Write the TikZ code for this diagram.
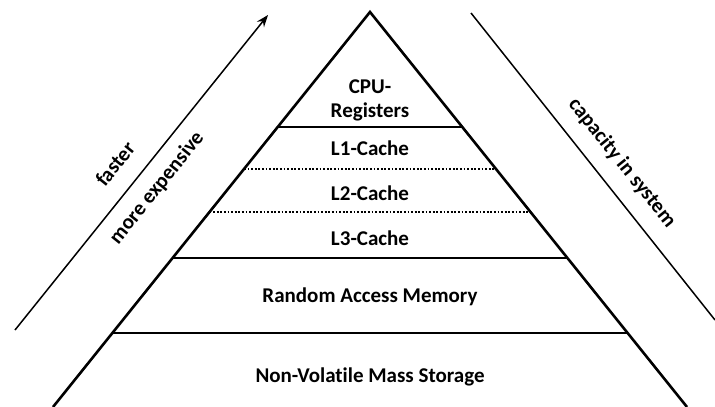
\documentclass[tikz,border=0pt]{standalone}
\usepackage{fontspec}
\setmainfont{Carlito}[Ligatures={NoCommon}]
\usetikzlibrary{calc,arrows.meta}
\begin{document}
\begin{tikzpicture}[x=1pt,y=-1pt,
  pyr/.style={line width=2.6pt, line join=miter},
  sep/.style={line width=2.2pt},
  dotsep/.style={line width=1.8pt, dash pattern=on 1.8pt off 1.8pt},
  lab/.style={font=\fontsize{21}{24}\selectfont\bfseries, align=center, inner sep=0pt},
  side/.style={font=\fontsize{21}{24}\selectfont\bfseries, inner sep=0pt},
  axis/.style={line width=1.5pt}]
\useasboundingbox (0,0) rectangle (715,407);
\fill[white] (0,0) rectangle (715,407);
% pyramid
\coordinate (A) at (370,12);
\coordinate (BL) at (53,407);
\coordinate (BR) at (687,407);
\draw[pyr] (BL) -- (A) -- (BR);
% separators (fraction = (y-12)/395)
\draw[sep] ($(A)!0.2911!(BL)$) -- ($(A)!0.2911!(BR)$);
\draw[dotsep] ($(A)!0.3975!(BL)$) -- ($(A)!0.3975!(BR)$);
\draw[dotsep] ($(A)!0.5063!(BL)$) -- ($(A)!0.5063!(BR)$);
\draw[sep] ($(A)!0.6228!(BL)$) -- ($(A)!0.6228!(BR)$);
\draw[sep] ($(A)!0.8127!(BL)$) -- ($(A)!0.8127!(BR)$);
% labels
\node[lab] (cpu) at (370,100) {CPU-\\Registers};
\node[lab] (l1) at (370,148) {L1-Cache};
\node[lab] (l2) at (370,193) {L2-Cache};
\node[lab] (l3) at (370,238) {L3-Cache};
\node[lab] (ram) at (370,297) {Random Access Memory};
\node[lab] (nvm) at (370,377) {Non-Volatile Mass Storage};
% left arrow
\coordinate (LA) at (15,330);
\coordinate (LB) at (268,15);
\draw[axis, -{Stealth[length=12pt,width=9pt]}] (LA) -- (LB);
\node[side, rotate=51.2] (fast) at (115,164) {faster};
\node[side, rotate=51.2] (exp) at (157,188) {more expensive};
% right line
\coordinate (RA) at (471,13);
\coordinate (RB) at (715,320);
\draw[axis] (RA) -- (RB);
\node[side, rotate=-51.2] (cap) at (622,163) {capacity in system};
\end{tikzpicture}
\end{document}
